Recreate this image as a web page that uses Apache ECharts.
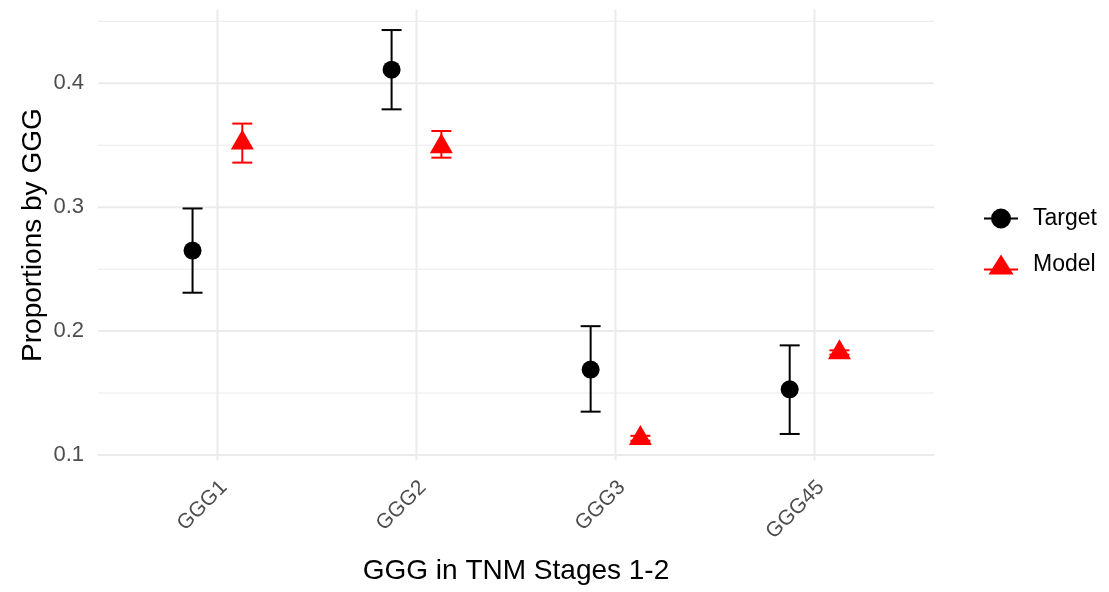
<!DOCTYPE html>
<html>
<head>
<meta charset="utf-8">
<script src="https://cdn.jsdelivr.net/npm/echarts@6/dist/echarts.min.js"></script>
<style>
html,body{margin:0;padding:0;background:#fff;}
#chart{width:1109px;height:592px;}
</style>
</head>
<body>
<div id="chart"></div>
<script>
// ---- data ----
const categories = ['GGG1', 'GGG2', 'GGG3', 'GGG45'];
const seriesNames = ['Target', 'Model'];
const targetMean  = [0.265, 0.411, 0.169, 0.153];
const targetLower = [0.231, 0.379, 0.135, 0.117];
const targetUpper = [0.299, 0.443, 0.204, 0.1885];
const modelMean   = [0.352, 0.349, 0.1135, 0.1828];
const modelLower  = [0.336, 0.340, 0.1115, 0.181];
const modelUpper  = [0.3675, 0.3615, 0.1155, 0.1845];
const yTickLabels = [0.1, 0.2, 0.3, 0.4];
const yMinorGrid  = [0.15, 0.25, 0.35, 0.45];
const xAxisTitle = 'GGG in TNM Stages 1-2';
const yAxisTitle = 'Proportions by GGG';

// ---- layout ----
const dodge = 0.125;
const xPos = categories.map((c, i) => i + 1);
const FONT = "'Liberation Sans', Arial, sans-serif";

function errData(lower, upper, off) {
  return xPos.map((x, i) => [x + off, lower[i], upper[i]]);
}
function ptData(mean, off) {
  return xPos.map((x, i) => [x + off, mean[i]]);
}
function errRender(color) {
  return function (params, api) {
    const x = api.value(0);
    const lo = api.coord([x, api.value(1)]);
    const hi = api.coord([x, api.value(2)]);
    const hw = 10;
    const st = { stroke: color, lineWidth: 2 };
    return {
      type: 'group',
      children: [
        { type: 'line', shape: { x1: lo[0], y1: lo[1], x2: hi[0], y2: hi[1] }, style: st },
        { type: 'line', shape: { x1: lo[0] - hw, y1: lo[1], x2: lo[0] + hw, y2: lo[1] }, style: st },
        { type: 'line', shape: { x1: hi[0] - hw, y1: hi[1], x2: hi[0] + hw, y2: hi[1] }, style: st }
      ]
    };
  };
}
function hGrid(width) {
  return function (params, api) {
    const cs = params.coordSys;
    const y = api.coord([1, api.value(0)])[1];
    return { type: 'line', shape: { x1: cs.x, y1: y, x2: cs.x + cs.width, y2: y },
      style: { stroke: '#EBEBEB', lineWidth: width }, silent: true };
  };
}
function vGrid(params, api) {
  const cs = params.coordSys;
  const x = api.coord([api.value(0), 0.2])[0];
  return { type: 'line', shape: { x1: x, y1: cs.y, x2: x, y2: cs.y + cs.height },
    style: { stroke: '#EBEBEB', lineWidth: 2 }, silent: true };
}

const chart = echarts.init(document.getElementById('chart'), null, { renderer: 'canvas' });
chart.setOption({
  animation: false,
  backgroundColor: '#ffffff',
  textStyle: { fontFamily: FONT },
  grid: { left: 98, right: 175, top: 9.6, bottom: 131.4, containLabel: false },
  xAxis: {
    type: 'value', min: 0.4, max: 4.6,
    name: xAxisTitle, nameLocation: 'middle', nameGap: 97, nameMoveOverlap: false,
    nameTextStyle: { fontSize: 28, color: '#000', fontFamily: FONT },
    axisLine: { show: false }, axisTick: { show: false }, splitLine: { show: false },
    axisLabel: {
      customValues: xPos,
      formatter: v => '{a|' + (categories[Math.round(v) - 1] || '') + '}',
      rich: { a: { fontSize: 21, color: '#4D4D4D', fontFamily: FONT, padding: [0, -9, 0, 0] } },
      rotate: 45, fontSize: 21, color: '#4D4D4D', margin: 30, fontFamily: FONT
    }
  },
  yAxis: {
    type: 'value', min: 0.0955, max: 0.4595,
    name: yAxisTitle, nameLocation: 'middle', nameGap: 51, nameRotate: 90, nameMoveOverlap: false,
    nameTextStyle: { fontSize: 28, color: '#000', fontFamily: FONT },
    axisLine: { show: false }, axisTick: { show: false }, splitLine: { show: false },
    axisLabel: {
      customValues: yTickLabels,
      formatter: v => v.toFixed(1),
      fontSize: 22, color: '#4D4D4D', margin: 14, fontFamily: FONT
    }
  },
  legend: {
    orient: 'vertical', left: 979, top: 202,
    itemWidth: 34, itemHeight: 20, itemGap: 23,
    textStyle: { fontSize: 23, color: '#000', fontFamily: FONT, padding: [0, 0, 0, 10] },
    data: [
      { name: seriesNames[0], icon: 'path://M0,9 L34,9 L34,11 L0,11 Z M7,10 A10,10 0 1,1 27,10 A10,10 0 1,1 7,10 Z', itemStyle: { color: '#000' } },
      { name: seriesNames[1], icon: 'path://M0,14 L34,14 L34,16 L0,16 Z M4.5,20 L17,0 L29.5,20 Z', itemStyle: { color: '#FF0000' } }
    ]
  },
  series: [
    { type: 'custom', name: 'gridMinor', data: yMinorGrid.map(v => [v]), renderItem: hGrid(1), z: 0, silent: true, encode: { y: 0 } },
    { type: 'custom', name: 'gridMajorY', data: yTickLabels.map(v => [v]), renderItem: hGrid(2), z: 0, silent: true, encode: { y: 0 } },
    { type: 'custom', name: 'gridMajorX', data: xPos.map(v => [v]), renderItem: vGrid, z: 0, silent: true, encode: { x: 0 } },
    { type: 'custom', name: seriesNames[0], data: errData(targetLower, targetUpper, -dodge), renderItem: errRender('#000000'), z: 3, itemStyle: { color: '#000' }, encode: { x: 0, y: [1, 2] } },
    { type: 'custom', name: seriesNames[1], data: errData(modelLower, modelUpper, dodge), renderItem: errRender('#FF0000'), z: 3, itemStyle: { color: '#FF0000' }, encode: { x: 0, y: [1, 2] } },
    { type: 'scatter', name: seriesNames[0], data: ptData(targetMean, -dodge), symbol: 'circle', symbolSize: 18, itemStyle: { color: '#000', opacity: 1 }, z: 4 },
    { type: 'scatter', name: seriesNames[1], data: ptData(modelMean, dodge), symbol: 'triangle', symbolSize: [23, 20], symbolOffset: [0, -3.3], itemStyle: { color: '#FF0000', opacity: 1 }, z: 4 }
  ]
});
</script>
</body>
</html>
